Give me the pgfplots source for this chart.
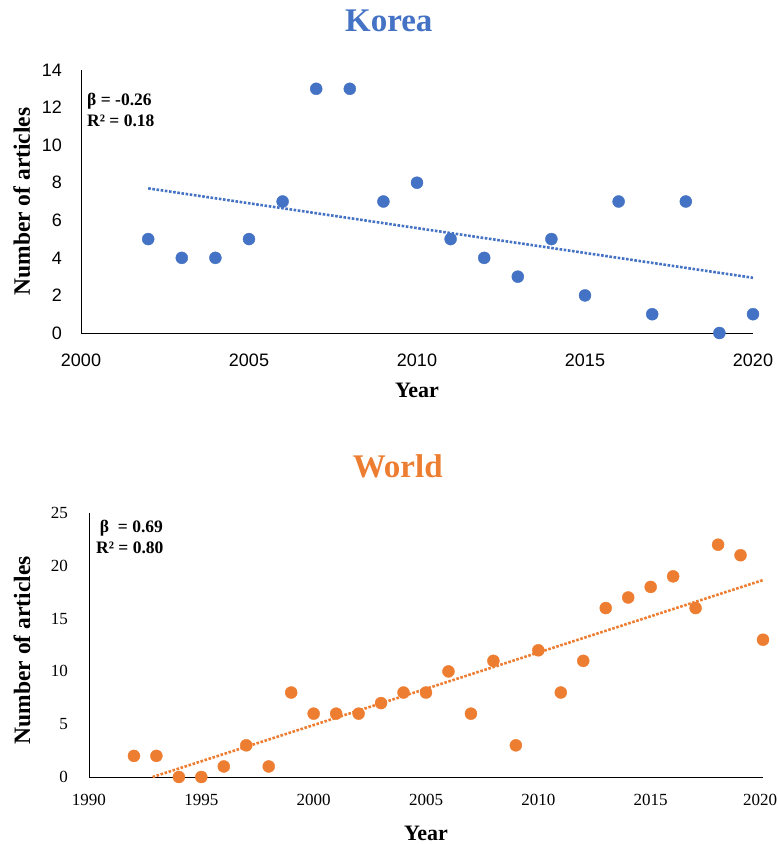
\documentclass[border=0pt]{standalone}
\usepackage{fontspec}
\setmainfont{Liberation Serif}
\setsansfont{Liberation Sans}
\usepackage{pgfplots}
\pgfplotsset{compat=1.18}
\definecolor{kblue}{HTML}{4472C4}
\definecolor{worange}{HTML}{ED7D31}
\pgfplotsset{
  excel/.style={
    scale only axis, clip=false,
    axis x line=bottom, axis y line=left,
    axis line style={-, black, line width=1pt},
    major tick length=0pt,
    /pgf/number format/assume math mode=true,
    /pgf/number format/1000 sep={},
    xticklabel style={anchor=north, inner sep=0pt},
    yticklabel style={anchor=east, inner sep=0pt},
    xlabel style={font=\fontsize{22}{22}\selectfont\bfseries},
    ylabel style={font=\fontsize{23.5}{23.5}\selectfont\bfseries},
    title style={font=\fontsize{33}{33}\selectfont\bfseries, anchor=center},
  },
  trend/.style={line width=2.6pt, dash pattern=on 2.6pt off 1.6pt},
}
\begin{document}
\begin{tikzpicture}
\path[use as bounding box] (0,0) rectangle (778pt,-844pt);
% Korea
\begin{axis}[excel,
  at={(81pt,-333pt)}, anchor=south west,
  width=672pt, height=263pt,
  xmin=2000, xmax=2020, ymin=0, ymax=14,
  xtick={2000,2005,2010,2015,2020},
  ytick={0,2,4,6,8,10,12,14},
  tick label style={font=\fontsize{18}{18}\selectfont\sffamily},
  xticklabel style={yshift=-21pt},
  yticklabel style={xshift=-19pt},
  title={\textcolor{kblue}{Korea}},
  title style={at={(axis description cs:0.458,1.163)}},
  xlabel={Year},
  xlabel style={at={(axis description cs:0.5,-0.22)}, anchor=center},
  ylabel={Number of articles},
  ylabel style={at={(axis description cs:-0.088,0.5)}, anchor=center},
]
\addplot[only marks, mark=*, mark size=6pt, kblue, mark options={fill=kblue, draw=kblue}] coordinates {
(2002,5) (2003,4) (2004,4) (2005,5) (2006,7) (2007,13) (2008,13) (2009,7) (2010,8) (2011,5)
(2012,4) (2013,3) (2014,5) (2015,2) (2016,7) (2017,1) (2018,7) (2019,0) (2020,1)};
\addplot[kblue, trend] coordinates {(2002,7.70) (2020,2.94)};
\node[anchor=west, inner sep=0pt, font=\fontsize{17.5}{17.5}\selectfont\bfseries] at (rel axis cs:0.009,0.882) {β = -0.26};
\node[anchor=west, inner sep=0pt, font=\fontsize{17.5}{17.5}\selectfont\bfseries] at (rel axis cs:0.009,0.806) {R² = 0.18};
\end{axis}
% World
\begin{axis}[excel,
  at={(89pt,-777pt)}, anchor=south west,
  width=674pt, height=264pt,
  xmin=1990, xmax=2020, ymin=0, ymax=25,
  xtick={1990,1995,2000,2005,2010,2015},
  extra x ticks={2020},
  extra x tick style={xticklabel style={xshift=-3pt}},
  ytick={0,5,10,15,20,25},
  tick label style={font=\fontsize{17}{17}\selectfont},
  xticklabel style={yshift=-17pt},
  yticklabel style={xshift=-21pt},
  title={\textcolor{worange}{World}},
  title style={at={(axis description cs:0.458,1.155)}},
  xlabel={Year},
  xlabel style={at={(axis description cs:0.5,-0.212)}, anchor=center},
  ylabel={Number of articles},
  ylabel style={at={(axis description cs:-0.0994,0.48)}, anchor=center},
]
\addplot[only marks, mark=*, mark size=6pt, worange, mark options={fill=worange, draw=worange}] coordinates {
(1992,2) (1993,2) (1994,0) (1995,0) (1996,1) (1997,3) (1998,1) (1999,8) (2000,6) (2001,6)
(2002,6) (2003,7) (2004,8) (2005,8) (2006,10) (2007,6) (2008,11) (2009,3) (2010,12) (2011,8)
(2012,11) (2013,16) (2014,17) (2015,18) (2016,19) (2017,16) (2018,22) (2019,21) (2020,13)};
\addplot[worange, trend] coordinates {(1992.83,0) (2020,18.65)};
\node[anchor=west, inner sep=0pt, font=\fontsize{17.5}{17.5}\selectfont\bfseries] at (rel axis cs:0.016,0.943) {β \ = 0.69};
\node[anchor=west, inner sep=0pt, font=\fontsize{17.5}{17.5}\selectfont\bfseries] at (rel axis cs:0.0104,0.867) {R² = 0.80};
\end{axis}
\end{tikzpicture}
\end{document}
